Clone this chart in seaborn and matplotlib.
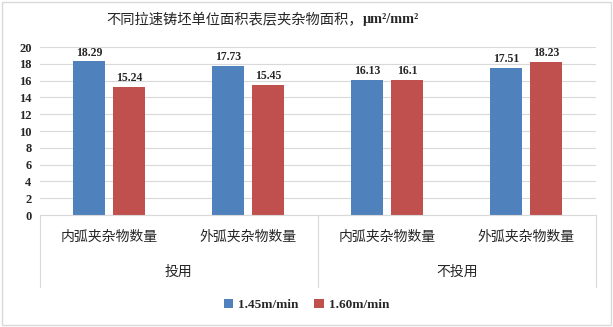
import pandas as pd
import matplotlib
matplotlib.use('Agg')
import matplotlib.pyplot as plt
import matplotlib.transforms as mtransforms
from matplotlib.patches import Rectangle
import seaborn as sns

sns.set_style('white')
plt.rcParams['font.family'] = ['Liberation Serif', 'Noto Sans CJK SC']

# 数据
groups = ['投用', '不投用']
items = ['内弧夹杂物数量', '外弧夹杂物数量']
speeds = ['1.45m/min', '1.60m/min']
v145 = [18.29, 17.73, 16.13, 17.51]
v160 = [15.24, 15.45, 16.1, 18.23]
colors = ['#4F81BD', '#C0504D']

keys = [g + '-' + it for g in groups for it in items]
df = pd.DataFrame({
    'key': keys * 2,
    'speed': [speeds[0]] * 4 + [speeds[1]] * 4,
    'value': v145 + v160,
})

fig = plt.figure(figsize=(6.13, 3.27), dpi=100)
ax = fig.add_axes([0.065, 0.3425, 0.907, 0.5137])

sns.barplot(data=df, x='key', y='value', hue='speed', order=keys, hue_order=speeds,
            palette=colors, saturation=1, width=0.575, gap=0.2, linewidth=0,
            ax=ax, legend=True)

ax.set_ylim(0, 20)
ax.set_yticks(range(0, 21, 2))
ax.set_xlim(-0.5, 3.5)
ax.yaxis.grid(True, color='#D9D9D9', linewidth=0.8)
ax.set_axisbelow(True)
for s in ['top', 'right', 'left']:
    ax.spines[s].set_visible(False)
ax.spines['bottom'].set_color('#D9D9D9')
ax.tick_params(axis='y', length=0, labelsize=9, pad=6)
for t in ax.get_yticklabels():
    t.set_fontweight('bold')
ax.set_xticks([])
ax.set_xlabel('')
ax.set_ylabel('')

# 数据标签
for cont in ax.containers:
    ax.bar_label(cont, labels=[f'{v:g}' for v in cont.datavalues], padding=2,
                 fontsize=8.5, fontweight='bold')

# 两级横坐标
trans = mtransforms.blended_transform_factory(ax.transData, ax.transAxes)
for i, k in enumerate(keys):
    ax.text(i, -0.13, k.split('-')[1], transform=trans, ha='center', va='center',
            fontsize=10)
for j, g in enumerate(groups):
    ax.text(j * 2 + 0.5, -0.34, g, transform=trans, ha='center', va='center',
            fontsize=10)
for xv in [-0.5, 1.5, 3.5]:
    ax.plot([xv, xv], [0, -0.43], transform=trans, color='#D9D9D9',
            linewidth=0.8, clip_on=False)

# 图例
handles, labels = ax.get_legend_handles_labels()
ax.legend_.remove()
fig.legend(handles, labels, loc='center', bbox_to_anchor=(0.5, 0.067), ncol=2,
           frameon=False, prop={'size': 9.5, 'weight': 'bold'},
           handlelength=0.7, handleheight=0.7, handletextpad=0.4, columnspacing=1.2)

# 标题
t1 = fig.text(0.173, 0.94, '不同拉速铸坯单位面积表层夹杂物面积，', ha='left',
              va='center', fontsize=10.3)
fig.texts.append(plt.Annotation('μm²/mm²', xy=(1, 0.5), xycoords=t1, ha='left',
                                va='center', fontsize=10.3, fontweight='bold'))
fig.texts[-1].set_figure(fig)

fig.patches.append(Rectangle((0.003, 0.005), 0.994, 0.99, transform=fig.transFigure,
                             fill=False, edgecolor='#D9D9D9', linewidth=1))

fig.savefig('out.png', dpi=100)
